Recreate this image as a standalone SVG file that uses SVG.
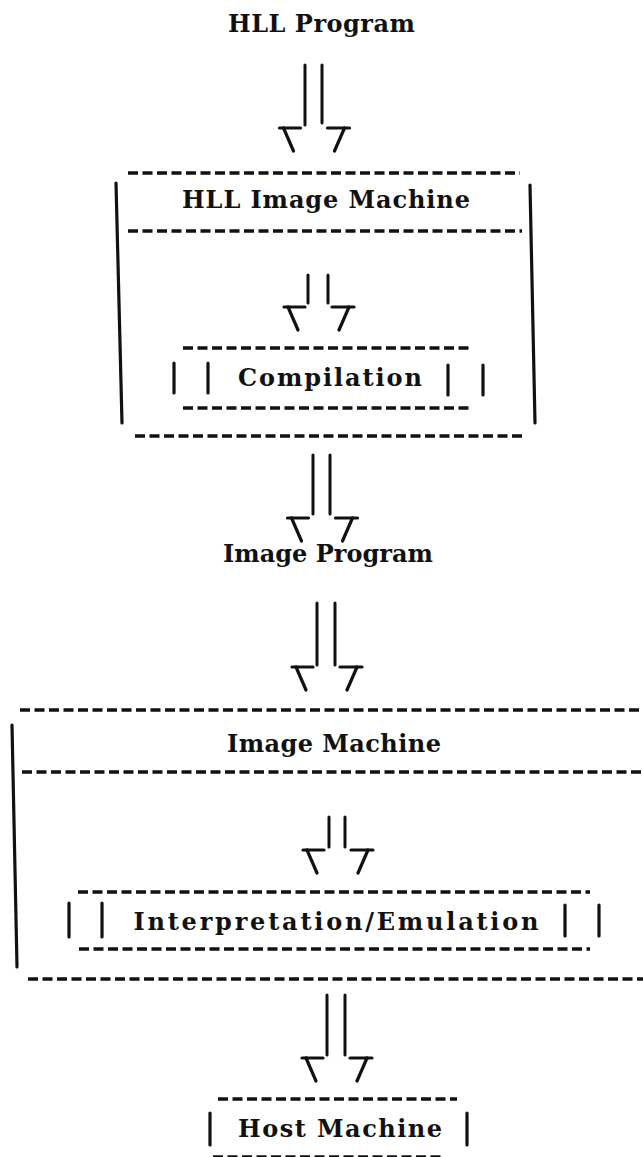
<svg xmlns="http://www.w3.org/2000/svg" xmlns:xlink="http://www.w3.org/1999/xlink" width="643" height="1157" viewBox="0 0 643 1157">
  <style>
    .dash { stroke: #111; stroke-width: 3.4; stroke-dasharray: 10 4.5; fill: none; }
    .rule { stroke: #111; stroke-width: 3.2; stroke-linecap: round; fill: none; }
    .shaft { stroke: #111; stroke-width: 3; stroke-linecap: round; fill: none; }
    .label { font-family: "DejaVu Serif", "Liberation Serif", serif; font-weight: bold; font-size: 24px; fill: #111; text-anchor: middle; }
  </style>
  <defs>
    <!-- typed double-arrow head: two capped diagonals converging below the shafts -->
    <g id="head" class="rule">
      <line x1="-34" y1="0" x2="-13" y2="0"/>
      <line x1="-30" y1="0" x2="-20" y2="23"/>
      <line x1="14" y1="0" x2="36" y2="0"/>
      <line x1="31" y1="0" x2="21" y2="23"/>
    </g>
  </defs>

  <rect width="643" height="1157" fill="#fff"/>

  <g id="hll-program">
    <text class="label" x="321.5" y="32" textLength="187" lengthAdjust="spacing">HLL Program</text>
  </g>

  <g id="hll-image-machine">
    <line class="dash" x1="128" y1="173" x2="520" y2="173"/>
    <text class="label" x="326" y="208" textLength="288" lengthAdjust="spacing">HLL Image Machine</text>
    <line class="dash" x1="128" y1="231" x2="522" y2="231"/>
    <line class="rule" x1="116" y1="183" x2="122" y2="423"/>
    <line class="rule" x1="530" y1="185" x2="535" y2="423"/>
    <line class="dash" x1="135" y1="436" x2="525" y2="436"/>
  </g>

  <g id="compilation">
    <line class="dash" x1="183" y1="348" x2="472" y2="348"/>
    <line class="rule" x1="174" y1="363" x2="174" y2="393"/>
    <line class="rule" x1="208" y1="363" x2="208" y2="393"/>
    <text class="label" x="330" y="386" textLength="184" lengthAdjust="spacing">Compilation</text>
    <line class="rule" x1="448" y1="365" x2="448" y2="395"/>
    <line class="rule" x1="483" y1="365" x2="483" y2="395"/>
    <line class="dash" x1="183" y1="408" x2="472" y2="408"/>
  </g>

  <g id="image-program">
    <text class="label" x="328" y="562" textLength="210" lengthAdjust="spacing">Image Program</text>
  </g>

  <g id="image-machine">
    <line class="dash" x1="20" y1="710" x2="643" y2="710"/>
    <text class="label" x="334" y="752" textLength="214" lengthAdjust="spacing">Image Machine</text>
    <line class="dash" x1="22" y1="772" x2="643" y2="772"/>
    <line class="rule" x1="12" y1="725" x2="17" y2="967"/>
    <line class="dash" x1="28" y1="979" x2="643" y2="979"/>
  </g>

  <g id="interpretation-emulation">
    <line class="dash" x1="78" y1="892" x2="590" y2="892"/>
    <line class="rule" x1="69" y1="903" x2="69" y2="937"/>
    <line class="rule" x1="102" y1="903" x2="102" y2="937"/>
    <text class="label" x="336" y="930" textLength="405" lengthAdjust="spacing">Interpretation/Emulation</text>
    <line class="rule" x1="565" y1="905" x2="565" y2="936"/>
    <line class="rule" x1="599" y1="905" x2="599" y2="936"/>
    <line class="dash" x1="79" y1="949" x2="590" y2="949"/>
  </g>

  <g id="host-machine">
    <line class="dash" x1="218" y1="1099" x2="457" y2="1099"/>
    <line class="rule" x1="210" y1="1113" x2="210" y2="1145"/>
    <text class="label" x="340" y="1137" textLength="204" lengthAdjust="spacing">Host Machine</text>
    <line class="rule" x1="467" y1="1113" x2="467" y2="1145"/>
    <line class="dash" x1="213" y1="1157" x2="443" y2="1157" stroke-width="4" stroke="#999"/>
  </g>

  <g id="connectors">
    <!-- HLL Program -> HLL Image Machine -->
    <g transform="translate(313.5,128)">
      <line class="shaft" x1="-8.5" y1="-63" x2="-8.5" y2="-3"/>
      <line class="shaft" x1="8.5" y1="-63" x2="8.5" y2="-5"/>
      <use xlink:href="#head"/>
    </g>
    <!-- HLL Image Machine -> Compilation -->
    <g transform="translate(318,307)">
      <line class="shaft" x1="-10" y1="-32" x2="-10" y2="-4"/>
      <line class="shaft" x1="10" y1="-32" x2="10" y2="-4"/>
      <use xlink:href="#head"/>
    </g>
    <!-- HLL Image Machine -> Image Program -->
    <g transform="translate(321.5,518)">
      <line class="shaft" x1="-8.5" y1="-63" x2="-8.5" y2="-4"/>
      <line class="shaft" x1="8.5" y1="-63" x2="8.5" y2="-4"/>
      <use xlink:href="#head"/>
    </g>
    <!-- Image Program -> Image Machine -->
    <g transform="translate(326,667)">
      <line class="shaft" x1="-9" y1="-64" x2="-9" y2="-2"/>
      <line class="shaft" x1="9" y1="-64" x2="9" y2="-2"/>
      <use xlink:href="#head"/>
    </g>
    <!-- Image Machine -> Interpretation/Emulation -->
    <g transform="translate(337,850)">
      <line class="shaft" x1="-8" y1="-33" x2="-8" y2="-3"/>
      <line class="shaft" x1="8" y1="-33" x2="8" y2="-3"/>
      <use xlink:href="#head"/>
    </g>
    <!-- Image Machine -> Host Machine -->
    <g transform="translate(336,1058)">
      <line class="shaft" x1="-9" y1="-63" x2="-9" y2="-3"/>
      <line class="shaft" x1="9" y1="-63" x2="9" y2="-3"/>
      <use xlink:href="#head"/>
    </g>
  </g>
</svg>
